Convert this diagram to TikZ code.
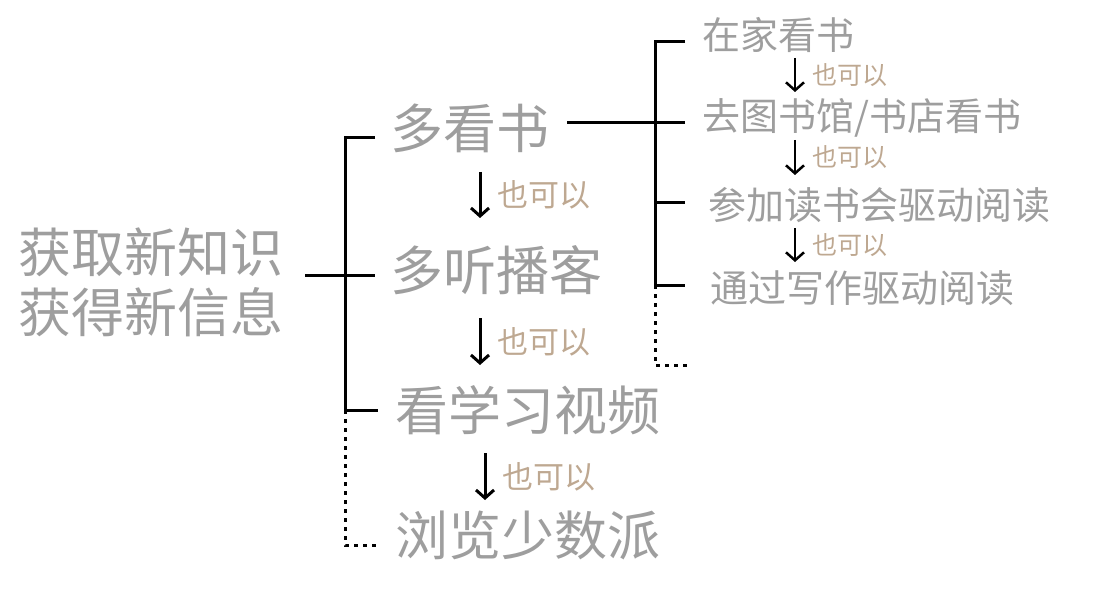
\documentclass[tikz,border=0pt]{standalone}
\usepackage{fontspec}
\usetikzlibrary{arrows.meta}
\newfontfamily\cjk{Noto Sans CJK SC}
\begin{document}
\begin{tikzpicture}[x=1pt,y=-1pt,
    big/.style={anchor=west,inner sep=0pt,text=tgray,font=\cjk\fontsize{53}{53}\selectfont},
    mid/.style={anchor=west,inner sep=0pt,text=tgray,font=\cjk\fontsize{38}{38}\selectfont},
    alt/.style={anchor=west,inner sep=0pt,text=tan,font=\cjk\fontsize{31}{31}\selectfont},
    salt/.style={anchor=west,inner sep=0pt,text=tan,font=\cjk\fontsize{25}{25}\selectfont},
    line/.style={line width=3pt},
    dot/.style={line width=3pt,dash pattern=on 4pt off 5pt},
    flecha/.style={-{Straight Barb[length=8pt,width=18pt]},line width=3pt}]
        %colores
        \colorlet{tgray}{black!38}
        \definecolor{tan}{RGB}{190,168,145}
        \useasboundingbox (0,0) rectangle (1120,607);

        % Tema
        \node[big,anchor=center] (tema1) at (151,252) {获取新知识};
        \node[big,anchor=center] (tema2) at (151,312) {获得新信息};

        % Ramas principales
        \node[big] (libro) at (390,128) {多看书};
        \node[big] (pod) at (390,270) {多听播客};
        \node[big] (video) at (395,410) {看学习视频};
        \node[big] (sspai) at (395,535) {浏览少数派};

        % Corchete principal
        \draw[line] (305,275) -- (375,275);
        \draw[line] (375,138) -- (345,138) -- (345,410) -- (378,410);
        \draw[dot] (345,410) -- (345,545) -- (378,545);

        % Flechas, tambien
        \foreach \x/\ya/\yb/\name in {480/172/218/a1,480/318/365/a2,485/453/500/a3}{
            \coordinate (\name s) at (\x,\ya);
            \coordinate (\name e) at (\x,\yb);
            \draw[flecha] (\name s) -- (\name e);
            \node[alt] at (\x+17,{(\ya+\yb)/2}) {也可以};
        }

        % Ramas secundarias
        \node[mid] (casa) at (702,35) {在家看书};
        \node[mid] (bib) at (702,118) {去图书馆/书店看书};
        \node[mid] (club) at (708,205) {参加读书会驱动阅读};
        \node[mid] (escr) at (710,288) {通过写作驱动阅读};

        % Corchete secundario
        \draw[line] (567,123) -- (685,123);
        \draw[line] (685,42) -- (655,42) -- (655,285) -- (685,285);
        \draw[line] (655,203) -- (685,203);
        \draw[dot] (655,285) -- (655,365) -- (688,365);

        % Flechas chicas
        \foreach \ya/\yb/\name in {58/92/b1,140/175/b2,228/262/b3}{
            \coordinate (\name s) at (795,\ya);
            \coordinate (\name e) at (795,\yb);
            \draw[flecha,line width=2.5pt] (\name s) -- (\name e);
            \node[salt] at (812,{(\ya+\yb)/2}) {也可以};
        }
    \end{tikzpicture}
\end{document}
